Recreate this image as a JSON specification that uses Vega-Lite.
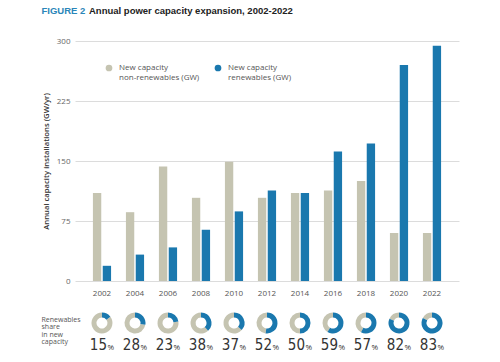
{
  "$schema": "https://vega.github.io/schema/vega-lite/v6.json",
  "width": 384,
  "height": 240,
  "autosize": {"type": "none"},
  "padding": {"left": 75, "top": 41, "right": 41, "bottom": 81},
  "background": "white",
  "config": {"font": "Open Sans", "view": {"stroke": null}},
  "title": {
    "text": "Annual power capacity expansion, 2002-2022",
    "anchor": "start",
    "frame": "group",
    "dx": 14,
    "offset": -18,
    "baseline": "alphabetic",
    "font": "Liberation Sans",
    "fontSize": 9.5,
    "fontWeight": "bold",
    "color": "#222222"
  },
  "data": {
    "values": [
      {"year": "2002", "nonrenewables": 110, "renewables": 19, "share": 15},
      {"year": "2004", "nonrenewables": 86, "renewables": 33, "share": 28},
      {"year": "2006", "nonrenewables": 143, "renewables": 42, "share": 23},
      {"year": "2008", "nonrenewables": 104, "renewables": 64, "share": 38},
      {"year": "2010", "nonrenewables": 149, "renewables": 87, "share": 37},
      {"year": "2012", "nonrenewables": 104, "renewables": 113, "share": 52},
      {"year": "2014", "nonrenewables": 110, "renewables": 110, "share": 50},
      {"year": "2016", "nonrenewables": 113, "renewables": 162, "share": 59},
      {"year": "2018", "nonrenewables": 125, "renewables": 172, "share": 57},
      {"year": "2020", "nonrenewables": 60, "renewables": 270, "share": 82},
      {"year": "2022", "nonrenewables": 60, "renewables": 294, "share": 83}
    ]
  },
  "transform": [{"fold": ["nonrenewables", "renewables"], "as": ["source", "gw"]}],
  "encoding": {
    "x": {
      "field": "year",
      "type": "ordinal",
      "scale": {"paddingInner": 0.45, "paddingOuter": 0.543},
      "axis": {
        "labelAngle": 0,
        "labelFontSize": 8,
        "labelColor": "#555555",
        "labelPadding": 8,
        "ticks": false,
        "domain": false,
        "grid": false,
        "title": "FIGURE 2",
        "titleX": -34,
        "titleY": -268,
        "titleAlign": "left",
        "titleBaseline": "alphabetic",
        "titleFont": "Liberation Sans",
        "titleFontSize": 9.5,
        "titleFontWeight": "bold",
        "titleColor": "#2a86b9"
      }
    }
  },
  "layer": [
    {
      "mark": {"type": "bar"},
      "encoding": {
        "xOffset": {"field": "source", "type": "nominal", "scale": {"paddingInner": 0.15}},
        "y": {
          "field": "gw",
          "type": "quantitative",
          "scale": {"domain": [0, 300], "nice": false},
          "axis": {
            "orient": "left",
            "values": [0, 75, 150, 225, 300],
            "title": "Annual capacity installations (GW/yr)",
            "titleFontSize": 7.7,
            "titleFontWeight": 600,
            "titleColor": "#333333",
            "titlePadding": 6,
            "labelFontSize": 8,
            "labelColor": "#666666",
            "labelPadding": 5,
            "ticks": false,
            "domain": false,
            "gridColor": "#dcdcdc"
          }
        },
        "color": {
          "field": "source",
          "type": "nominal",
          "scale": {"domain": ["nonrenewables", "renewables"], "range": ["#c5c4b1", "#1a78ae"]},
          "legend": {
            "orient": "none",
            "legendX": 30,
            "legendY": 23,
            "direction": "horizontal",
            "title": null,
            "symbolType": "circle",
            "symbolSize": 45,
            "symbolStrokeWidth": 0,
            "labelFontSize": 8,
            "labelColor": "#555555",
            "labelExpr": "['New capacity', datum.label == 'renewables' ? 'renewables (GW)' : 'non-renewables (GW)']",
            "labelOffset": 6,
            "labelBaseline": "middle",
            "labelLineHeight": 8,
            "columnPadding": 14,
            "padding": 0
          }
        }
      }
    },
    {
      "encoding": {
        "y": {
          "datum": "Renewables share in new capacity",
          "type": "nominal",
          "scale": {"range": [282, 282]},
          "axis": {
            "orient": "left",
            "domain": false,
            "ticks": false,
            "tickSize": 0,
            "grid": false,
            "title": null,
            "labelExpr": "['Renewables', 'share', 'in new', 'capacity']",
            "labelAlign": "left",
            "labelBaseline": "middle",
            "labelPadding": 34,
            "labelFontSize": 7,
            "labelColor": "#555555",
            "labelLineHeight": 7.6,
            "labelOffset": -4
          }
        }
      },
      "layer": [
        {
          "transform": [
            {"stack": "gw", "groupby": ["year"], "sort": [{"field": "source", "order": "descending"}], "offset": "normalize", "as": ["t0", "t1"]}
          ],
          "mark": {"type": "arc", "radius": 10.5, "radius2": 5.5},
          "encoding": {
            "theta": {"field": "t0", "type": "quantitative", "scale": {"domain": [0, 1]}},
            "theta2": {"field": "t1"},
            "color": {"field": "source", "type": "nominal"}
          }
        },
        {
          "transform": [{"filter": "datum.source == 'renewables'"}],
          "mark": {"type": "text", "align": "right", "dx": 5, "dy": 27, "baseline": "alphabetic", "font": "Liberation Sans Narrow, DejaVu Sans Condensed, sans-serif", "fontSize": 15, "color": "#333333"},
          "encoding": {"text": {"field": "share", "type": "quantitative"}}
        },
        {
          "transform": [{"filter": "datum.source == 'renewables'"}],
          "mark": {"type": "text", "align": "left", "dx": 5.5, "dy": 27, "baseline": "alphabetic", "fontSize": 8, "color": "#333333"},
          "encoding": {"text": {"value": "%"}}
        }
      ]
    }
  ],
  "resolve": {"scale": {"y": "independent"}, "axis": {"y": "independent"}}
}
